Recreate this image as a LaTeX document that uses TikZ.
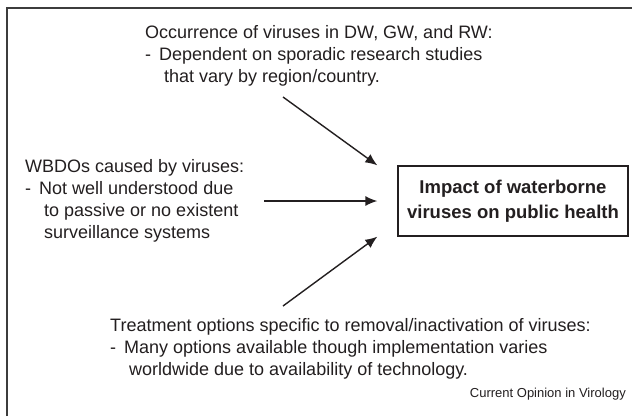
\documentclass[tikz,border=0pt]{standalone}
\usepackage{fontspec}
\setmainfont{Liberation Sans}
\usetikzlibrary{arrows.meta,positioning,calc}
\definecolor{opInk}{RGB}{35,31,32}
\definecolor{opFrame}{RGB}{60,60,60}
\newcommand{\dashitem}{\makebox[14pt][l]{-}}
\newcommand{\contitem}{\hspace*{19pt}}

\begin{document}
\begin{tikzpicture}[x=1pt, y=-1pt,
  txt/.style={text=opInk, font=\fontsize{18}{22}\selectfont, align=left, inner sep=0pt, anchor=north west},
  impbox/.style={draw=opInk, text=opInk, line width=1.3pt, font=\fontsize{18.5}{25}\selectfont\bfseries, align=center, minimum width=230pt, minimum height=70pt, inner sep=0pt},
  ar/.style={-{Latex[length=12pt,width=10pt]}, line width=1.4pt, draw=opInk}
]
\useasboundingbox (0,0) rectangle (632,416);
\fill[white] (0,0) rectangle (632,416);
\draw[opFrame, line width=2pt] (7,416) |- (632,8);

% the three sources
\node[txt] (occur) at (145,25) {Occurrence of viruses in DW, GW, and RW:\\
  \dashitem Dependent on sporadic research studies\\
  \contitem that vary by region/country.};
\node[txt] (wbdo) at (25,159) {WBDOs caused by viruses:\\
  \dashitem Not well understood due\\
  \contitem to passive or no existent\\
  \contitem surveillance systems};
\node[txt] (treat) at (110,318) {Treatment options specific to removal/inactivation of viruses:\\
  \dashitem Many options available though implementation varies\\
  \contitem worldwide due to availability of technology.};

% target
\node[impbox] (impact) at (513,201) {Impact of waterborne\\viruses on public health};

\coordinate (s1) at (283,97);
\coordinate (s2) at (264,201);
\coordinate (s3) at (283,306);
\coordinate (t1) at ($(impact.north west)+(-20,0)$);
\coordinate (t2) at ($(impact.west)+(-20,0)$);
\coordinate (t3) at ($(impact.south west)+(-20,0)$);
\foreach \a/\b in {s1/t1, s2/t2, s3/t3} \draw[ar] (\a) -- (\b);

\node[text=opInk, font=\fontsize{13}{15}\selectfont, anchor=base east, inner sep=0pt] (journal) at (626,397) {Current Opinion in Virology};
\end{tikzpicture}
\end{document}
